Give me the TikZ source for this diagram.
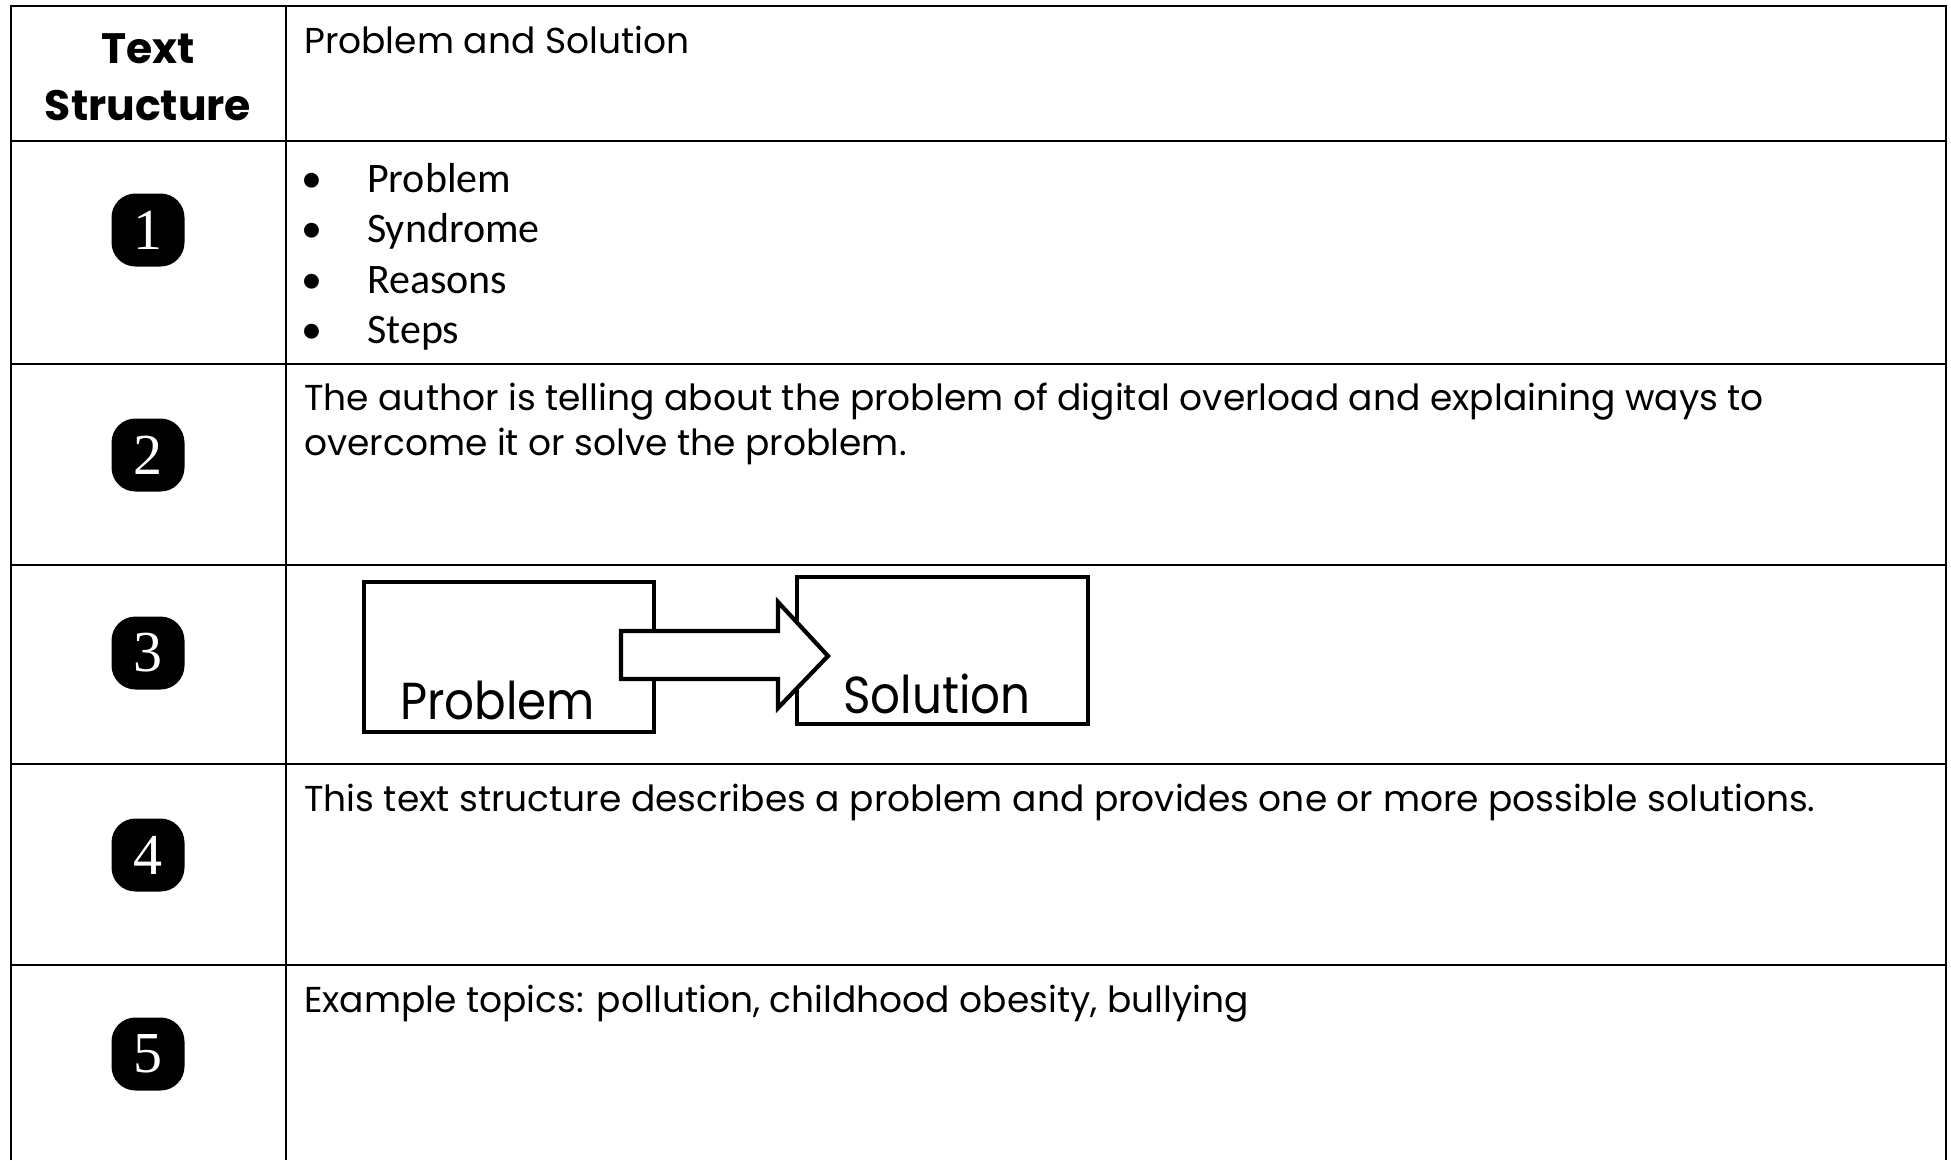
\documentclass[tikz,border=0pt]{standalone}
\usepackage{fontspec}
\setmainfont{Poppins}
\newfontfamily\calfont{Carlito}
\newfontfamily\numfont{Liberation Serif}
\usetikzlibrary{positioning}

\begin{document}
\begin{tikzpicture}[
    x=1pt,
    y=-1pt,
    grid/.style={line width=2.6pt},
    badge/.style={fill=black, rounded corners=24pt, minimum width=73pt, minimum height=73pt,
                  inner sep=0pt, text=white, font=\numfont\fontsize{58}{58}\selectfont},
    head/.style={anchor=base, inner sep=0pt, font=\bfseries\fontsize{42.5}{42.5}\selectfont},
    cell/.style={anchor=base west, inner sep=0pt, font=\fontsize{36}{42}\selectfont},
    item/.style={anchor=base west, inner sep=0pt, font=\calfont\fontsize{42}{42}\selectfont},
    flowbox/.style={draw, line width=4.2pt, inner sep=0pt},
    flowlbl/.style={anchor=base west, inner sep=0pt, font=\fontsize{52}{52}\selectfont}
]
\useasboundingbox (0,0) rectangle (1951,1160);

% table rules
\draw[grid] (11,1160) -- (11,6) -- (1946,6) -- (1946,1160);
\draw[grid] (286,6) -- (286,1160);
\foreach \y in {141,364,565,764,965}
    \draw[grid] (11,\y) -- (1946,\y);

% left column
\node[head] (hd1) at (148,63) {Text};
\node[head] (hd2) at (148,120) {Structure};
\foreach \n/\y in {1/230,2/455,3/653,4/855,5/1054}
    \node[badge] (b\n) at (148,\y) {\n};

% right column
\node[cell] (ttl) at (304,53) {Problem and Solution};

\foreach \w [count=\i] in {Problem,Syndrome,Reasons,Steps} {
    \node[item] (it\i) at (367,192+50.5*\i-50.5) {\w};
    \node[item, anchor=base] (bu\i) at (312,192+50.5*\i-50.5) {\textbullet};
}

\node[cell] (ex1) at (304,410) {The author is telling about the problem of digital overload and explaining ways to};
\node[cell] (ex2) at (304,455) {overcome it or solve the problem.};

\node[flowbox, minimum width=290pt, minimum height=150pt] (prob) at (509,657) {};
\node[flowbox, minimum width=291pt, minimum height=147pt] (sol) at (942.5,650.5) {};
\node[flowlbl] (probl) at (400,719) {\scalebox{0.9}[1]{Problem}};
\node[flowlbl] (soll) at (843,713) {\scalebox{0.9}[1]{Solution}};
% block arrow
\draw[line width=4.2pt, fill=white, line join=miter]
    (621,631) -- (778,631) -- (778,602) -- (828,656) -- (778,708) -- (778,679) -- (621,679) -- cycle;

\node[cell] (def) at (304,811) {This text structure describes a problem and provides one or more possible solutions.};
\node[cell] (top) at (304,1012) {Example topics: pollution, childhood obesity, bullying};
\end{tikzpicture}
\end{document}
